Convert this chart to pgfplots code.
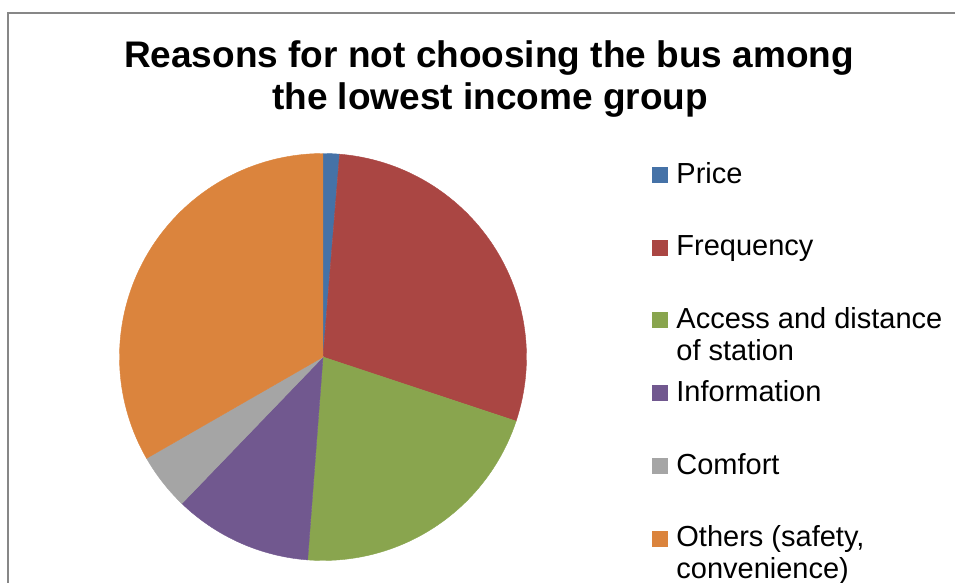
\documentclass[border=0pt]{standalone}
\usepackage{fontspec}
\setmainfont{Liberation Sans}
\usepackage{pgfplots}
\pgfplotsset{compat=1.18}
\usepgfplotslibrary{polar}
\definecolor{cPrice}{HTML}{4572A7}
\definecolor{cFreq}{HTML}{AA4643}
\definecolor{cAccess}{HTML}{89A54E}
\definecolor{cInfo}{HTML}{71588F}
\definecolor{cComfort}{HTML}{A5A5A5}
\definecolor{cOthers}{HTML}{DB843D}
\definecolor{frameg}{HTML}{878787}
% slice: start (cumulative %), value (%), colour, legend text
\newcommand\pieslice[4]{%
  \pgfmathsetmacro\angA{90-3.6*(#1+#2)}%
  \pgfmathsetmacro\angB{90-3.6*#1}%
  \pgfmathtruncatemacro\nsamp{#2*2+8}%
  \addplot[fill=#3, draw=#3, line width=0.2pt, domain=\angA:\angB, samples=\nsamp] {1} -- (axis cs:0,0) -- cycle;
  \addlegendentry{#4}%
}
\newcommand\twoline[2]{\smash{\begin{tabular}[t]{@{}l@{}}#1\\#2\end{tabular}}}
\begin{document}
\begin{tikzpicture}
\path[use as bounding box] (0,0) rectangle (477.5pt,291.5pt);
\draw[frameg, line width=1pt] (4pt,-2pt) -- (4pt,285pt) -- (480pt,285pt);
\node[anchor=base, inner sep=0pt, font=\fontsize{18.5}{21}\selectfont\bfseries] at (244.5pt,257.5pt) {Reasons for not choosing the bus among};
\node[anchor=base, inner sep=0pt, font=\fontsize{18.5}{21}\selectfont\bfseries] at (245pt,236.5pt) {the lowest income group};
\begin{polaraxis}[
  at={(161.5pt,113pt)}, anchor=center,
  scale only axis, width=203.5pt, height=203.5pt,
  ymin=0, ymax=1, xmin=0, xmax=360,
  hide axis, clip=false,
  legend image code/.code={\fill[#1] (0pt,0.5pt) rectangle (7.5pt,8pt);},
  legend style={draw=none, fill=none, inner sep=0pt, outer sep=0pt,
    at={(1.3084,0.9865)}, anchor=north west,
    row sep=0pt, column sep=4.5pt,
    font=\fontsize{14.5}{16}\selectfont,
    cells={anchor=base west},
    nodes={inner sep=0pt, outer sep=0pt, text height=12pt, text depth=24.4pt}},
]
\pieslice{0}{1.3}{cPrice}{Price}
\pieslice{1.3}{28.8}{cFreq}{Frequency}
\pieslice{30.1}{21.1}{cAccess}{\twoline{Access and distance}{of station}}
\pieslice{51.2}{11.0}{cInfo}{Information}
\pieslice{62.2}{4.5}{cComfort}{Comfort}
\pieslice{66.7}{33.3}{cOthers}{\twoline{Others (safety,}{convenience)}}
\end{polaraxis}
\end{tikzpicture}
\end{document}
